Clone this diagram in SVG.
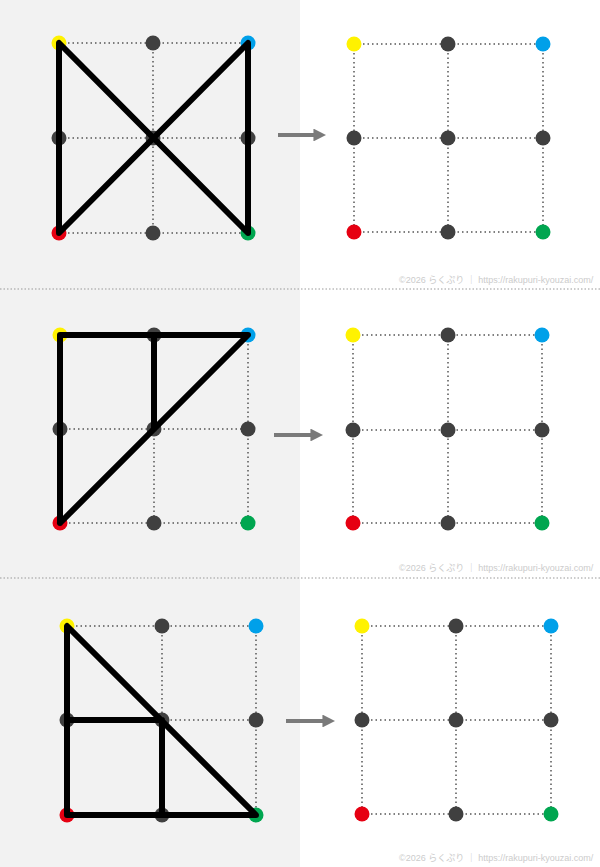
<svg xmlns="http://www.w3.org/2000/svg" width="600" height="867" viewBox="0 0 600 867">
<defs>
<style>
.bg{fill:#f2f2f2}
.grid{stroke:#555;stroke-width:1.5;stroke-dasharray:1.5 3;fill:none}
.sep{stroke:#999;stroke-width:1;stroke-dasharray:1.5 2;fill:none}
.path{stroke:#000;stroke-width:6;fill:none;stroke-linecap:round;stroke-linejoin:round}
.d{fill:#404040}
.y{fill:#fff200}
.b{fill:#00a0e9}
.r{fill:#e60012}
.g{fill:#00a650}
.arrow{stroke:#7a7a7a;stroke-width:4;fill:none}
.wm{font-family:"Liberation Sans","Noto Sans CJK JP",sans-serif;font-size:9px;fill:#cccccc}
</style>
<marker id="ah" viewBox="0 0 10 10" refX="2" refY="5" markerWidth="3.2" markerHeight="3.2" orient="auto" markerUnits="strokeWidth">
<path d="M0,0 L10,5 L0,10 z" fill="#7a7a7a"/>
</marker>
</defs>
<rect x="0" y="0" width="600" height="867" fill="#ffffff"/>
<rect class="bg" x="0" y="0" width="300" height="867"/>

<g id="separators">
<line class="sep" x1="0" y1="289" x2="600" y2="289"/>
<line class="sep" x1="0" y1="578" x2="600" y2="578"/>
</g>

<!-- Panel 1 left -->
<g id="p1-left">
<path class="grid" d="M59,43H248M59,138H248M59,233H248M59,43V233M153,43V233M248,43V233"/>
<circle class="y" cx="59" cy="43" r="7.5"/><circle class="d" cx="153" cy="43" r="7.5"/><circle class="b" cx="248" cy="43" r="7.5"/>
<circle class="d" cx="59" cy="138" r="7.5"/><circle class="d" cx="153" cy="138" r="7.5"/><circle class="d" cx="248" cy="138" r="7.5"/>
<circle class="r" cx="59" cy="233" r="7.5"/><circle class="d" cx="153" cy="233" r="7.5"/><circle class="g" cx="248" cy="233" r="7.5"/>
</g>
<!-- Panel 1 right -->
<g id="p1-right">
<path class="grid" d="M354,44H543M354,138H543M354,232H543M354,44V232M448,44V232M543,44V232"/>
<circle class="y" cx="354" cy="44" r="7.5"/><circle class="d" cx="448" cy="44" r="7.5"/><circle class="b" cx="543" cy="44" r="7.5"/>
<circle class="d" cx="354" cy="138" r="7.5"/><circle class="d" cx="448" cy="138" r="7.5"/><circle class="d" cx="543" cy="138" r="7.5"/>
<circle class="r" cx="354" cy="232" r="7.5"/><circle class="d" cx="448" cy="232" r="7.5"/><circle class="g" cx="543" cy="232" r="7.5"/>
</g>
<text class="wm" x="399" y="283">©2026 らくぷり ｜ https://rakupuri-kyouzai.com/</text>

<!-- Panel 2 left -->
<g id="p2-left">
<path class="grid" d="M60,335H248M60,429H248M60,523H248M60,335V523M154,335V523M248,335V523"/>
<circle class="y" cx="60" cy="335" r="7.5"/><circle class="d" cx="154" cy="335" r="7.5"/><circle class="b" cx="248" cy="335" r="7.5"/>
<circle class="d" cx="60" cy="429" r="7.5"/><circle class="d" cx="154" cy="429" r="7.5"/><circle class="d" cx="248" cy="429" r="7.5"/>
<circle class="r" cx="60" cy="523" r="7.5"/><circle class="d" cx="154" cy="523" r="7.5"/><circle class="g" cx="248" cy="523" r="7.5"/>
</g>
<!-- Panel 2 right -->
<g id="p2-right">
<path class="grid" d="M353,335H542M353,430H542M353,523H542M353,335V523M448,335V523M542,335V523"/>
<circle class="y" cx="353" cy="335" r="7.5"/><circle class="d" cx="448" cy="335" r="7.5"/><circle class="b" cx="542" cy="335" r="7.5"/>
<circle class="d" cx="353" cy="430" r="7.5"/><circle class="d" cx="448" cy="430" r="7.5"/><circle class="d" cx="542" cy="430" r="7.5"/>
<circle class="r" cx="353" cy="523" r="7.5"/><circle class="d" cx="448" cy="523" r="7.5"/><circle class="g" cx="542" cy="523" r="7.5"/>
</g>
<text class="wm" x="399" y="571">©2026 らくぷり ｜ https://rakupuri-kyouzai.com/</text>

<!-- Panel 3 left -->
<g id="p3-left">
<path class="grid" d="M67,626H256M67,720H256M67,815H256M67,626V815M162,626V815M256,626V815"/>
<circle class="y" cx="67" cy="626" r="7.5"/><circle class="d" cx="162" cy="626" r="7.5"/><circle class="b" cx="256" cy="626" r="7.5"/>
<circle class="d" cx="67" cy="720" r="7.5"/><circle class="d" cx="162" cy="720" r="7.5"/><circle class="d" cx="256" cy="720" r="7.5"/>
<circle class="r" cx="67" cy="815" r="7.5"/><circle class="d" cx="162" cy="815" r="7.5"/><circle class="g" cx="256" cy="815" r="7.5"/>
</g>
<!-- Panel 3 right -->
<g id="p3-right">
<path class="grid" d="M362,626H551M362,720H551M362,814H551M362,626V814M456,626V814M551,626V814"/>
<circle class="y" cx="362" cy="626" r="7.5"/><circle class="d" cx="456" cy="626" r="7.5"/><circle class="b" cx="551" cy="626" r="7.5"/>
<circle class="d" cx="362" cy="720" r="7.5"/><circle class="d" cx="456" cy="720" r="7.5"/><circle class="d" cx="551" cy="720" r="7.5"/>
<circle class="r" cx="362" cy="814" r="7.5"/><circle class="d" cx="456" cy="814" r="7.5"/><circle class="g" cx="551" cy="814" r="7.5"/>
</g>
<text class="wm" x="399" y="861">©2026 らくぷり ｜ https://rakupuri-kyouzai.com/</text>

<g id="connectors">
<path class="path" d="M59,43L59,233L248,43L248,233Z"/>
<path class="path" d="M60,523V335H248L60,523M154,335V429"/>
<path class="path" d="M67,626V815H256ZM67,720H162V815"/>
<line class="arrow" x1="278" y1="135" x2="316" y2="135" marker-end="url(#ah)"/>
<line class="arrow" x1="274" y1="435" x2="313" y2="435" marker-end="url(#ah)"/>
<line class="arrow" x1="286" y1="721" x2="325" y2="721" marker-end="url(#ah)"/>
</g>
</svg>
